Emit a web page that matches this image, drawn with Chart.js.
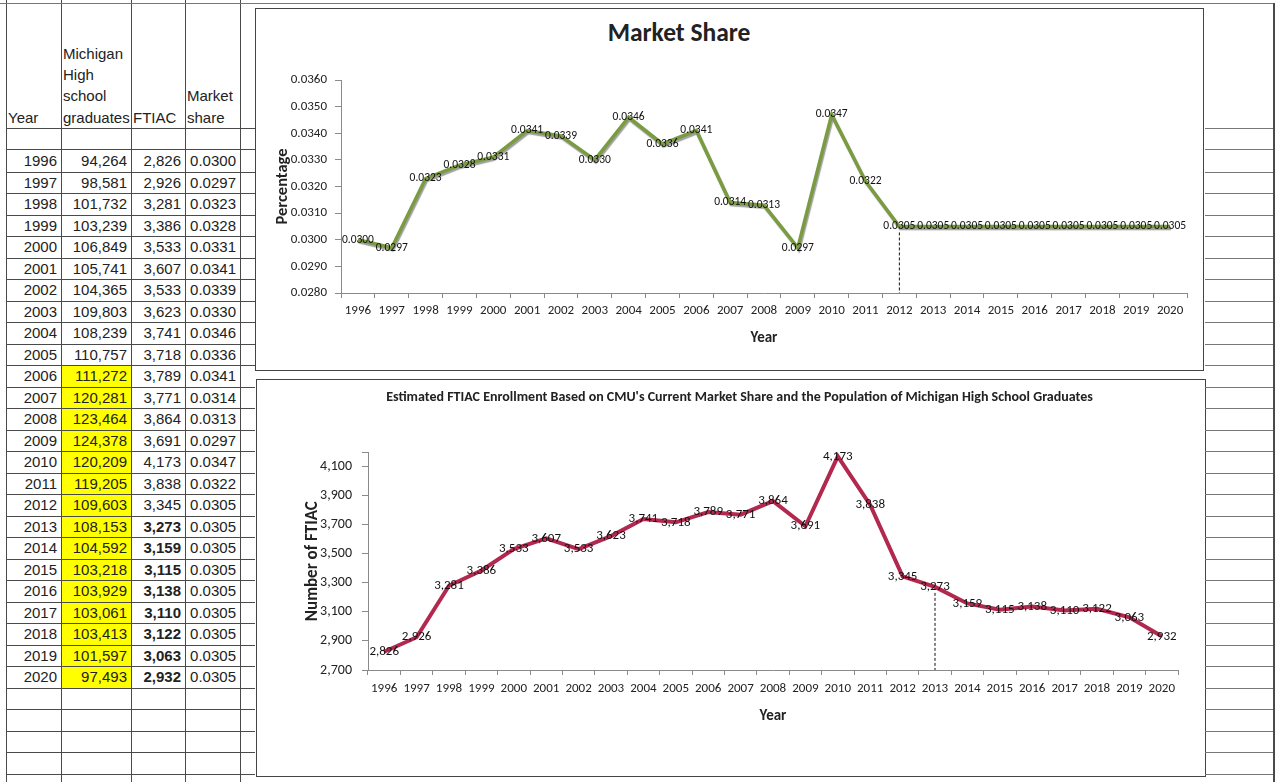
<!DOCTYPE html>
<html lang="en">
<head>
<meta charset="UTF-8">
<title>Market Share</title>
<script src="https://cdn.jsdelivr.net/npm/chart.js"></script>
<style>
  body, html {
    margin: 0;
    padding: 0;
    background: #fff;
  }
  #page {
    position: relative;
    width: 1275px;
    height: 782px;
    overflow: hidden;
    font-family: "Liberation Sans", Arial, sans-serif;
  }
  .ln { position: absolute; background: #4a4a4a; }
  .cell {
    position: absolute;
    font-size: 15px;
    line-height: 21.5px;
    height: 21.5px;
    color: #222;
    white-space: nowrap;
  }
  .head {
    position: absolute;
    font-size: 15px;
    line-height: 21.3px;
    color: #222;
  }
  .box {
    position: absolute;
    border: 1.5px solid #444;
    box-sizing: border-box;
    background: #fff;
  }
  .wrap { position: absolute; }
  .ctitle {
    position: absolute;
    font-family: Carlito, Lato, "Liberation Sans", sans-serif;
    font-weight: bold;
    color: #222;
    white-space: nowrap;
    transform: translate(-50%, -50%);
  }
</style>
</head>
<body>
<div id="page">
  <div class="box" style="left:255px;top:8px;width:949px;height:363px;"></div>
  <div class="box" style="left:256px;top:379px;width:950px;height:398px;"></div>
  <div class="ctitle" style="left:679px;top:32px;font-size:25.5px;">Market Share</div>
  <div class="wrap" style="left:255px;top:8px;width:948px;height:362px;"><canvas id="shareChart"></canvas></div>
  <div class="wrap" style="left:256px;top:379px;width:949px;height:397px;"><canvas id="ftiacChart"></canvas></div>
</div>

<script>
var years = ['1996','1997','1998','1999','2000','2001','2002','2003','2004','2005','2006','2007','2008',
             '2009','2010','2011','2012','2013','2014','2015','2016','2017','2018','2019','2020'];
var graduates = [94264, 98581, 101732, 103239, 106849, 105741, 104365, 109803, 108239, 110757, 111272, 120281, 123464,
                 124378, 120209, 119205, 109603, 108153, 104592, 103218, 103929, 103061, 103413, 101597, 97493];
var ftiac = [2826, 2926, 3281, 3386, 3533, 3607, 3533, 3623, 3741, 3718, 3789, 3771, 3864,
             3691, 4173, 3838, 3345, 3273, 3159, 3115, 3138, 3110, 3122, 3063, 2932];
var marketShare = [0.0300, 0.0297, 0.0323, 0.0328, 0.0331, 0.0341, 0.0339, 0.0330, 0.0346, 0.0336, 0.0341, 0.0314, 0.0313,
                   0.0297, 0.0347, 0.0322, 0.0305, 0.0305, 0.0305, 0.0305, 0.0305, 0.0305, 0.0305, 0.0305, 0.0305];
var headers = [['Year'], ['Michigan', 'High', 'school', 'graduates'], ['FTIAC'], ['Market', 'share']];
var shareTicks = [0.028, 0.029, 0.030, 0.031, 0.032, 0.033, 0.034, 0.035, 0.036];
var ftiacTicks = [2700, 2900, 3100, 3300, 3500, 3700, 3900, 4100];
var yellowFrom = '2006';   // highlighted graduates
var boldFrom = '2013';     // projected FTIAC shown bold
var shareCut = '2012';     // dashed line in market share chart
var ftiacCut = '2013';     // dashed line in FTIAC chart

var page = document.getElementById('page');
function add(cls, style, text) {
  var d = document.createElement('div');
  d.className = cls;
  d.style.cssText = style;
  if (text !== undefined) d.innerHTML = text;
  page.appendChild(d);
  return d;
}

// ---- spreadsheet on the left ----
var colX = [6, 61, 131, 185, 240];
var rowTop = 150, rowH = 21.5;
var yIdx = years.indexOf(yellowFrom);
add('', 'position:absolute;background:#ffff00;left:62px;width:69px;top:' + (rowTop + yIdx * rowH) + 'px;height:' + ((years.length - yIdx) * rowH) + 'px;');

colX.forEach(function (x) {
  add('ln', 'left:' + x + 'px;top:0;width:1px;height:782px;');
});
var hLines = [128, 149];
for (var k = 1; rowTop + k * rowH < 782; k++) hLines.push(rowTop + k * rowH);
hLines.forEach(function (y) {
  add('ln', 'left:6px;top:' + y + 'px;width:249px;height:1px;');
  add('ln', 'left:1205px;top:' + y + 'px;width:70px;height:1px;background:#777;');
});
add('ln', 'left:0;top:3px;width:1275px;height:1px;background:#777;');
add('ln', 'left:1273px;top:3px;width:2px;height:779px;');

headers.forEach(function (h, c) {
  var top = 128 - h.length * 21.3;
  add('head', 'left:' + (colX[c] + 2) + 'px;top:' + top + 'px;', h.join('<br>'));
});

var bIdx = years.indexOf(boldFrom);
years.forEach(function (yr, i) {
  var top = rowTop + i * rowH;
  var vals = [yr, graduates[i].toLocaleString('en-US'), ftiac[i].toLocaleString('en-US'), marketShare[i].toFixed(4)];
  vals.forEach(function (v, c) {
    var w = colX[c + 1] - colX[c] - 4;
    var bold = (c === 2 && i >= bIdx) ? 'font-weight:bold;' : '';
    add('cell', 'left:' + colX[c] + 'px;width:' + w + 'px;text-align:right;top:' + top + 'px;' + bold, v);
  });
});

// ---- charts ----
var chartFont = 'Carlito, Lato, "Liberation Sans", sans-serif';

function valueLabels(fmt, size) {
  return {
    id: 'valueLabels',
    afterDatasetsDraw: function (chart) {
      var ctx = chart.ctx;
      var meta = chart.getDatasetMeta(0);
      var data = chart.data.datasets[0].data;
      ctx.save();
      ctx.font = size + 'px ' + chartFont;
      ctx.fillStyle = '#111';
      ctx.textAlign = 'center';
      ctx.textBaseline = 'middle';
      meta.data.forEach(function (pt, i) {
        ctx.fillText(fmt(data[i]), pt.x, pt.y);
      });
      ctx.restore();
    }
  };
}

function cutLine(label) {
  return {
    id: 'cutLine',
    afterDatasetsDraw: function (chart) {
      var i = chart.data.labels.indexOf(label);
      var pt = chart.getDatasetMeta(0).data[i];
      var ctx = chart.ctx;
      ctx.save();
      ctx.strokeStyle = '#111';
      ctx.lineWidth = 1;
      ctx.setLineDash([3, 2]);
      ctx.beginPath();
      ctx.moveTo(pt.x, pt.y + 6);
      ctx.lineTo(pt.x, chart.chartArea.bottom);
      ctx.stroke();
      ctx.restore();
    }
  };
}

var lineShadow = {
  id: 'lineShadow',
  beforeDatasetsDraw: function (chart) {
    var ctx = chart.ctx;
    ctx.save();
    ctx.shadowColor = 'rgba(80,80,80,0.55)';
    ctx.shadowOffsetX = 1;
    ctx.shadowOffsetY = 2;
    ctx.shadowBlur = 1;
  },
  afterDatasetsDraw: function (chart) {
    chart.ctx.restore();
  }
};

function axisOpts(extra) {
  return Object.assign({
    border: { color: '#8a8a8a', width: 1 },
    grid: { drawOnChartArea: false, color: '#8a8a8a', tickLength: 6 }
  }, extra);
}

new Chart(document.getElementById('shareChart'), {
  type: 'line',
  data: {
    labels: years,
    datasets: [{
      data: marketShare,
      borderColor: '#7a9b3f',
      borderWidth: 3.5,
      pointRadius: 0,
      tension: 0
    }]
  },
  options: {
    responsive: true,
    maintainAspectRatio: false,
    animation: false,
    layout: { padding: { left: 15, right: 16, top: 72, bottom: 7 } },
    plugins: {
      legend: { display: false },
      tooltip: { enabled: false },
      title: { display: false }
    },
    scales: {
      x: axisOpts({
        offset: true,
        grid: { drawOnChartArea: false, color: '#8a8a8a', tickLength: 5, offset: true },
        ticks: { color: '#222', font: { family: chartFont, size: 13 }, maxRotation: 0, autoSkip: false, padding: 5 },
        title: { display: true, text: 'Year', color: '#222', font: { family: chartFont, size: 15, weight: 'bold' }, padding: { top: 0, bottom: 16 } },
        afterFit: function (s) { s.height = 70; }
      }),
      y: axisOpts({
        min: shareTicks[0],
        max: shareTicks[shareTicks.length - 1],
        afterBuildTicks: function (s) { s.ticks = shareTicks.map(function (v) { return { value: v }; }); },
        ticks: { color: '#222', font: { family: chartFont, size: 13 }, padding: 8, callback: function (v) { return v.toFixed(4); } },
        title: { display: true, text: 'Percentage', color: '#222', font: { family: chartFont, size: 16.5, weight: 'bold' }, padding: { top: 3, bottom: 0 } },
        afterFit: function (s) { s.width = 71; }
      })
    }
  },
  plugins: [lineShadow, valueLabels(function (v) { return v.toFixed(4); }, 11.5), cutLine(shareCut)]
});

new Chart(document.getElementById('ftiacChart'), {
  type: 'line',
  data: {
    labels: years,
    datasets: [{
      data: ftiac,
      borderColor: '#b3284f',
      borderWidth: 4,
      pointRadius: 0,
      tension: 0
    }]
  },
  options: {
    responsive: true,
    maintainAspectRatio: false,
    animation: false,
    layout: { padding: { left: 45, right: 27, top: 0, bottom: 36 } },
    plugins: {
      legend: { display: false },
      tooltip: { enabled: false },
      title: {
        display: true,
        text: "Estimated FTIAC Enrollment Based on CMU's Current Market Share and the Population of Michigan High School Graduates",
        color: '#222',
        font: { family: chartFont, size: 14, weight: 'bold' },
        padding: { top: 9.6, bottom: 47 }
      }
    },
    scales: {
      x: axisOpts({
        offset: true,
        grid: { drawOnChartArea: false, color: '#8a8a8a', tickLength: 5, offset: true },
        ticks: { color: '#222', font: { family: chartFont, size: 13 }, maxRotation: 0, autoSkip: false, padding: 6 },
        title: { display: true, text: 'Year', color: '#222', font: { family: chartFont, size: 15, weight: 'bold' }, padding: { top: 0, bottom: 15 } },
        afterFit: function (s) { s.height = 70; }
      }),
      y: axisOpts({
        min: 2700,
        max: 4200,
        afterBuildTicks: function (s) { s.ticks = ftiacTicks.concat([4200]).map(function (v) { return { value: v }; }); },
        ticks: {
          color: '#222', font: { family: chartFont, size: 14 }, padding: 10,
          callback: function (v) { return ftiacTicks.indexOf(v) >= 0 ? v.toLocaleString('en-US') : ''; }
        },
        title: { display: true, text: 'Number of FTIAC', color: '#222', font: { family: chartFont, size: 17, weight: 'bold' }, padding: { top: 2, bottom: 0 } },
        afterFit: function (s) { s.width = 67; }
      })
    }
  },
  plugins: [valueLabels(function (v) { return v.toLocaleString('en-US'); }, 13), cutLine(ftiacCut)]
});
</script>
</body>
</html>
